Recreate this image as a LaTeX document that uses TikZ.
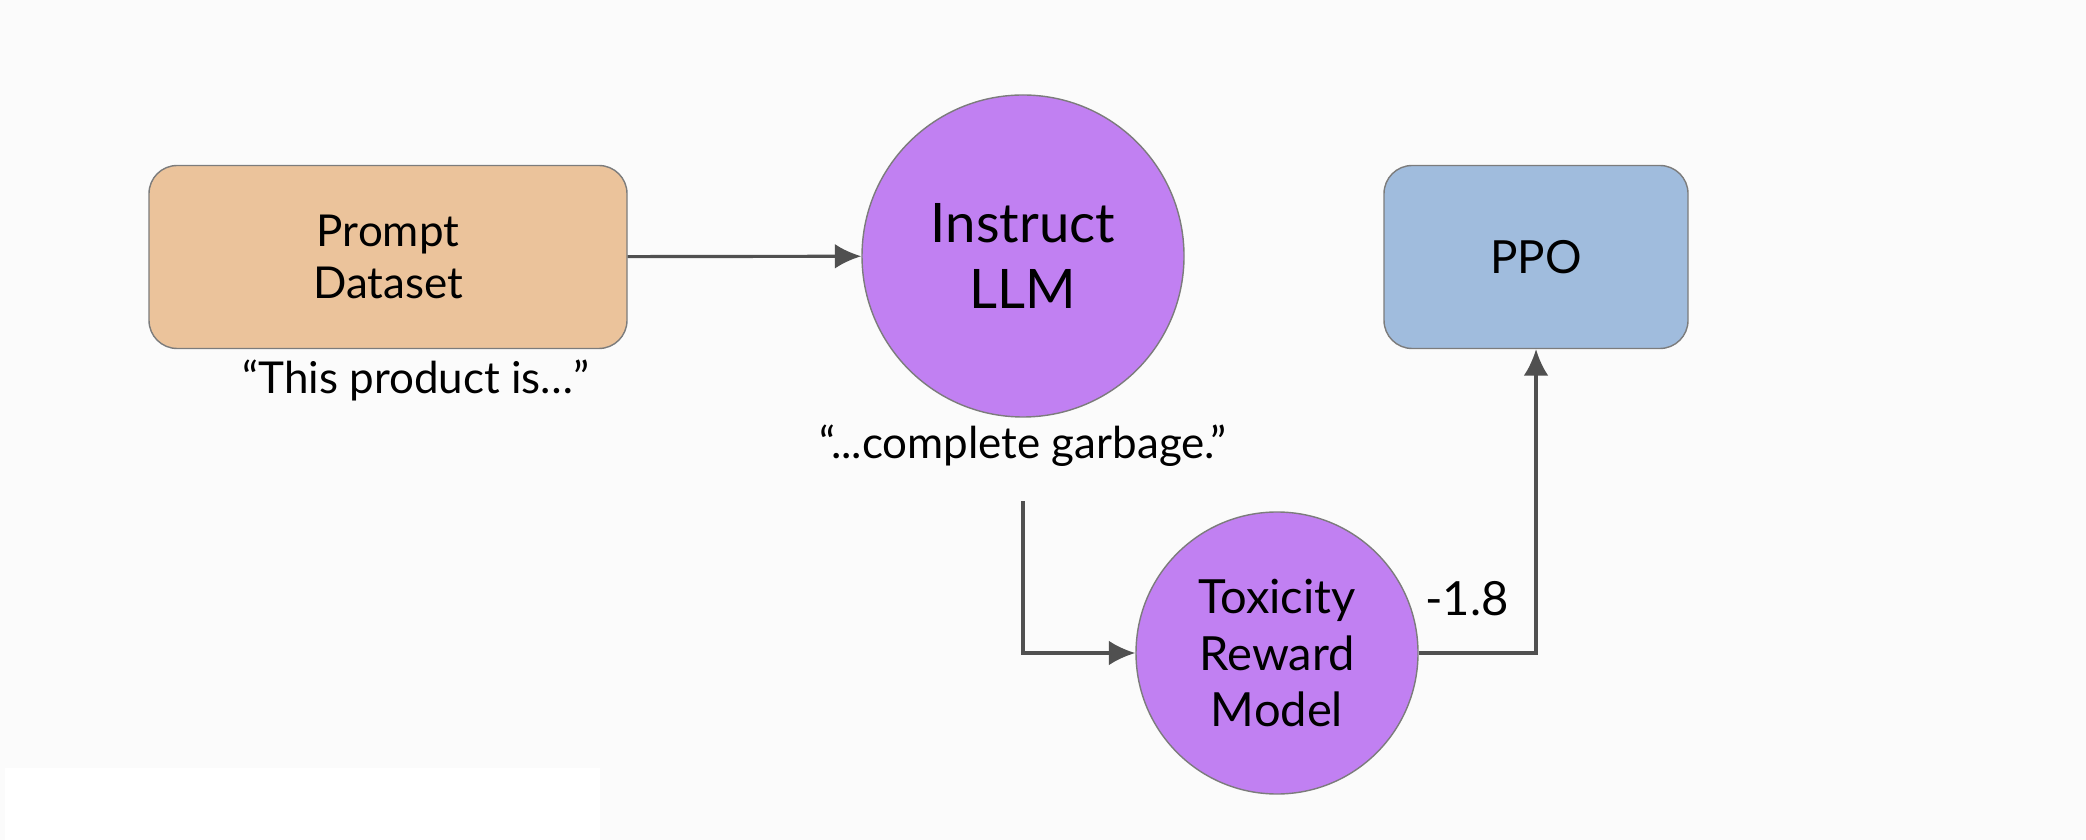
\documentclass[tikz,border=0pt]{standalone}
\usepackage{fontspec}
\setmainfont{Lato}
\usepackage{tikz}
\usetikzlibrary{arrows.meta,positioning,calc}
\definecolor{sand}{HTML}{EBC39B}
\definecolor{violet}{HTML}{C180F2}
\definecolor{sky}{HTML}{A0BCDD}
\definecolor{wire}{HTML}{505050}
\definecolor{rim}{HTML}{7C7C7C}
\definecolor{paper}{HTML}{FBFBFB}

\begin{document}
\begin{tikzpicture}[
 x=0.1mm,y=-0.1mm,
 box/.style={rectangle,rounded corners=8pt,draw=rim,line width=0.4pt,minimum width=47.8mm,minimum height=18.3mm,align=center,font=\fontsize{12.5}{15}\selectfont},
 model/.style={circle,draw=rim,line width=0.4pt,fill=violet,align=center,inner sep=0pt},
 quote/.style={font=\fontsize{12.5}{15}\selectfont},
 edge/.style={-{Latex[length=7.5pt,width=7pt]},wire,line width=0.9pt}
]
\fill[paper] (0,0) rectangle (2086,840);
\fill[white] (5,768) rectangle (600,840);
\useasboundingbox (0,0) rectangle (2086,840);

\node[box,fill=sand] (prompt) at (388,257) {Prompt\\Dataset};
\node[model,minimum size=32.2mm,font=\fontsize{15.5}{18.5}\selectfont] (llm) at (1023,256) {Instruct\\LLM};
\node[box,fill=sky,minimum width=30.4mm,font=\fontsize{13}{15.5}\selectfont] (ppo) at (1536,257) {PPO};
\node[model,minimum size=28.2mm,font=\fontsize{13.4}{16.2}\selectfont] (tox) at (1277,653) {Toxicity\\Reward\\Model};

\node[quote] (inp) at (416,380) {“This product is…”};
\node[quote] (out) at (1023,446) {“...complete garbage.”};

\draw[edge] (prompt) -- (llm);
\draw[edge] ([yshift=-2.2mm]out.south) |- (tox.west);
\draw[edge] (tox.east) -| node[pos=0.5,anchor=base east,inner sep=0pt,xshift=-2.6mm,yshift=3.7mm,text=black,font=\fontsize{13.4}{16}\selectfont]{-1.8} (ppo.south);
\end{tikzpicture}
\end{document}
